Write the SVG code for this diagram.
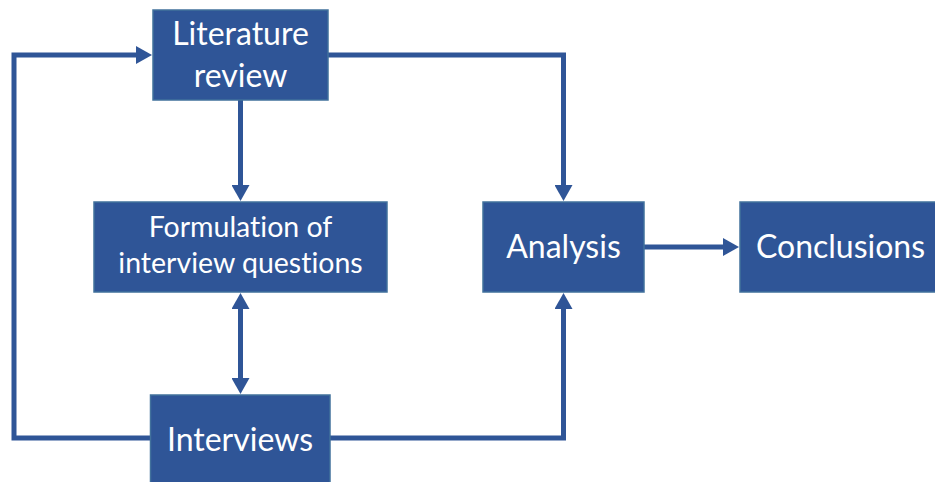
<svg xmlns="http://www.w3.org/2000/svg" width="935" height="482" viewBox="0 0 935 482">
  <style>
    .box { fill: #2F5597; stroke: #41719C; stroke-width: 1.5; }
    .lbl { fill: #FFFFFF; font-family: Lato, "Open Sans", "Liberation Sans", sans-serif; text-anchor: middle; font-variant-ligatures: none; }
    .big { font-size: 32px; }
    .mid { font-size: 28.5px; }
    .conn { fill: none; stroke: #2F5597; stroke-width: 5; stroke-linejoin: miter; }
  </style>
  <defs>
    <marker id="arrow" markerUnits="userSpaceOnUse" markerWidth="18" markerHeight="18" refX="1" refY="9" orient="auto-start-reverse">
      <path d="M0,0 L16,9 L0,18 z" fill="#2F5597"/>
    </marker>
  </defs>
  <rect width="935" height="482" fill="#FFFFFF"/>
  <g id="connectors">
    <path class="conn" d="M328,55 H563.5 V186" marker-end="url(#arrow)"/>
    <path class="conn" d="M240.5,100 V186" marker-end="url(#arrow)"/>
    <path class="conn" d="M240.5,308 V379" marker-start="url(#arrow)" marker-end="url(#arrow)"/>
    <path class="conn" d="M150,438 H14 V55 H137" marker-end="url(#arrow)"/>
    <path class="conn" d="M330,438 H563.5 V308" marker-end="url(#arrow)"/>
    <path class="conn" d="M644,247 H724" marker-end="url(#arrow)"/>
  </g>
  <g id="literature-review">
    <rect class="box" x="153" y="10" width="175" height="90"/>
    <text class="lbl big" x="240.5" y="45">Literature</text>
    <text class="lbl big" x="240.5" y="87">review</text>
  </g>
  <g id="formulation">
    <rect class="box" x="94" y="202" width="293" height="90"/>
    <text class="lbl mid" x="240.5" y="237">Formulation of</text>
    <text class="lbl mid" x="240.5" y="273">interview questions</text>
  </g>
  <g id="analysis">
    <rect class="box" x="483" y="202" width="161" height="90"/>
    <text class="lbl big" x="563.5" y="258">Analysis</text>
  </g>
  <g id="conclusions">
    <rect class="box" x="740" y="202" width="200" height="90"/>
    <text class="lbl big" x="840.5" y="258">Conclusions</text>
  </g>
  <g id="interviews">
    <rect class="box" x="150.5" y="395" width="179.5" height="92"/>
    <text class="lbl big" x="240" y="451">Interviews</text>
  </g>
</svg>
